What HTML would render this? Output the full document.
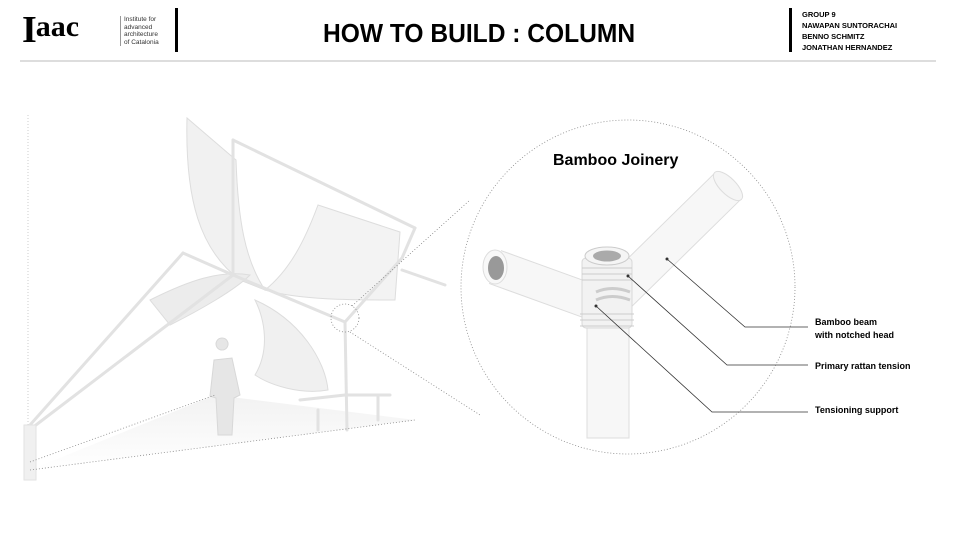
<!DOCTYPE html>
<html><head><meta charset="utf-8"><style>
html,body{margin:0;padding:0;background:#fff;}
body{width:960px;height:540px;position:relative;overflow:hidden;font-family:"Liberation Sans",sans-serif;}
.t{position:absolute;white-space:nowrap;}
</style></head><body>
<svg width="960" height="540" style="position:absolute;left:0;top:0">
<defs>
<linearGradient id="sh" x1="0" y1="0" x2="0" y2="1"><stop offset="0" stop-color="#f2f2f2"/><stop offset="1" stop-color="#fff"/></linearGradient>
</defs>
<rect x="175" y="8" width="3" height="44" fill="#000"/>
<rect x="789" y="8" width="3" height="44" fill="#000"/>
<rect x="120" y="16" width="1" height="30" fill="#999"/>
<rect x="20" y="60" width="916" height="2" fill="#ddd"/>
<polygon points="30,470 215,395 415,420" fill="url(#sh)"/>
<line x1="28" y1="115" x2="28" y2="470" stroke="#ccc" stroke-dasharray="1,2"/>
<path d="M187,118 C185,200 200,250 240,280 L265,290 C245,260 238,220 236,160 Z" fill="#f1f1f1" stroke="#ddd"/>
<path d="M318,205 L400,232 L395,300 C350,300 300,300 265,290 C290,270 305,240 318,205 Z" fill="#f3f3f3" stroke="#ddd"/>
<path d="M150,300 C190,280 220,270 250,275 C235,290 200,310 170,325 Z" fill="#ececec" stroke="#ddd"/>
<path d="M255,300 C300,320 325,360 328,390 C300,395 270,385 255,375 C270,350 265,320 255,300 Z" fill="#f0f0f0" stroke="#ddd"/>
<g stroke="#e2e2e2" stroke-width="3" fill="none" stroke-linecap="round">
<line x1="30" y1="425" x2="183" y2="253"/>
<line x1="32" y1="428" x2="233" y2="275"/>
<line x1="183" y1="253" x2="233" y2="275"/>
<line x1="233" y1="140" x2="233" y2="275"/>
<line x1="233" y1="140" x2="415" y2="228"/>
<line x1="415" y1="228" x2="402" y2="258"/>
<line x1="233" y1="275" x2="345" y2="322"/>
<line x1="402" y1="258" x2="345" y2="322"/>
<line x1="345" y1="322" x2="347" y2="430"/>
<line x1="402" y1="270" x2="445" y2="285"/>
<line x1="300" y1="400" x2="345" y2="395"/>
<line x1="345" y1="395" x2="390" y2="395"/>
<line x1="318" y1="410" x2="318" y2="430"/>
<line x1="378" y1="395" x2="378" y2="420"/>
</g>
<rect x="24" y="425" width="12" height="55" fill="#f0f0f0" stroke="#e2e2e2"/>
<path d="M222,350 a6,6 0 1 1 0.1,0 M214,360 L232,358 L240,395 L234,398 L232,435 L218,435 L216,398 L210,396 Z" fill="#e6e6e6" stroke="#d8d8d8"/>
<g stroke="#888" stroke-dasharray="1,2" fill="none" stroke-width="0.8">
<line x1="30" y1="470" x2="415" y2="420"/>
<line x1="30" y1="462" x2="215" y2="395"/>
<circle cx="345" cy="318" r="14"/>
<line x1="352" y1="306" x2="470" y2="200"/>
<line x1="350" y1="332" x2="480" y2="415"/>
<circle cx="628" cy="287" r="167"/>
</g>
<g stroke-linecap="butt">
<line x1="495" y1="267" x2="600" y2="305" stroke="#ddd" stroke-width="36"/>
<line x1="495" y1="267" x2="600" y2="305" stroke="#f7f7f7" stroke-width="34"/>
<line x1="612" y1="300" x2="728" y2="186" stroke="#ddd" stroke-width="38"/>
<line x1="612" y1="300" x2="728" y2="186" stroke="#f7f7f7" stroke-width="36"/>
</g>
<ellipse cx="728" cy="186" rx="8" ry="19" transform="rotate(-45 728 186)" fill="#f5f5f5" stroke="#ddd"/>
<ellipse cx="495" cy="267" rx="12" ry="17" fill="#f8f8f8" stroke="#ddd"/>
<ellipse cx="496" cy="268" rx="8" ry="12" fill="#999"/>
<rect x="587" y="320" width="42" height="118" fill="#f7f7f7" stroke="#ddd"/>
<rect x="582" y="258" width="50" height="70" rx="4" fill="#f2f2f2" stroke="#d8d8d8"/>
<g stroke="#ccc" fill="none">
<line x1="582" y1="268" x2="632" y2="268"/><line x1="582" y1="274" x2="632" y2="274"/><line x1="582" y1="280" x2="632" y2="280"/>
<line x1="580" y1="314" x2="634" y2="314"/><line x1="580" y1="320" x2="634" y2="320"/><line x1="580" y1="326" x2="634" y2="326"/>
</g>
<path d="M596,292 Q612,285 630,292 M596,300 Q612,293 630,300" stroke="#ccc" stroke-width="3" fill="none"/>
<ellipse cx="607" cy="256" rx="22" ry="9" fill="#f5f5f5" stroke="#ccc"/>
<ellipse cx="607" cy="256" rx="14" ry="5.5" fill="#aaa"/>
<g stroke="#333" fill="none" stroke-width="0.8">
<polyline points="667,259 745,327 808,327"/>
<polyline points="628,276 727,365 808,365"/>
<polyline points="596,306 712,412 808,412"/>
</g>
<circle cx="667" cy="259" r="1.5" fill="#333"/><circle cx="628" cy="276" r="1.5" fill="#333"/><circle cx="596" cy="306" r="1.5" fill="#333"/>
</svg>
<div class="t" style="left:22px;top:8px;font-family:'Liberation Serif',serif;font-weight:bold;font-size:38px;letter-spacing:-1px;">I<span style="font-size:30px;vertical-align:6px;letter-spacing:0">aac</span></div>
<div class="t" style="left:124px;top:16px;font-size:6.5px;line-height:7.5px;color:#333;">Institute for<br>advanced<br>architecture<br>of Catalonia</div>
<div class="t" style="left:323px;top:18px;font-size:26px;font-weight:bold;transform:scaleX(0.945);transform-origin:0 0;">HOW TO BUILD : COLUMN</div>
<div class="t" style="left:802px;top:9px;font-size:7.5px;font-weight:bold;line-height:11px;">GROUP 9<br>NAWAPAN SUNTORACHAI<br>BENNO SCHMITZ<br>JONATHAN HERNANDEZ</div>
<div class="t" style="left:553px;top:152px;font-size:16px;font-weight:bold;">Bamboo Joinery</div>
<div class="t" style="left:815px;top:316px;font-size:9px;font-weight:bold;line-height:13px;">Bamboo beam<br>with notched head</div>
<div class="t" style="left:815px;top:361px;font-size:9px;font-weight:bold;">Primary rattan tension</div>
<div class="t" style="left:815px;top:405px;font-size:9px;font-weight:bold;">Tensioning support</div>
</body></html>
